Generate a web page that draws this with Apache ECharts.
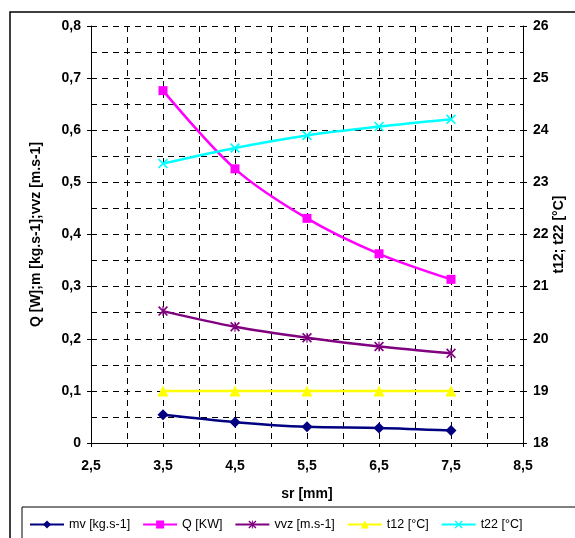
<!DOCTYPE html>
<html>
<head>
<meta charset="utf-8">
<script src="https://cdn.jsdelivr.net/npm/echarts@6/dist/echarts.min.js"></script>
<style>
  html, body { margin: 0; padding: 0; background: #fff; }
  #chart { width: 575px; height: 538px; }
</style>
</head>
<body>
<div id="chart"></div>
<script>
// Gap width sr [mm]
const sr = [3.5, 4.5, 5.5, 6.5, 7.5];

// Left axis series
const mv = [0.054, 0.040, 0.031, 0.029, 0.024];
const Q = [0.676, 0.526, 0.431, 0.363, 0.314];
const vvz = [0.253, 0.223, 0.202, 0.185, 0.172];

// Right axis series (°C)
const t12 = [19, 19, 19, 19, 19];
const t22 = [23.36, 23.66, 23.90, 24.07, 24.21];

const seriesNames = ['mv [kg.s-1]', 'Q [KW]', 'vvz [m.s-1]', 't12 [°C]', 't22 [°C]'];

const FONT = 'Liberation Sans, Arial, sans-serif';
const comma = v => String(+v.toFixed(1)).replace('.', ',');

const crossPath = 'path://M0,1.2 L1.2,0 L5,3.8 L8.8,0 L10,1.2 L6.2,5 L10,8.8 L8.8,10 L5,6.2 L1.2,10 L0,8.8 L3.8,5 Z';
const starPath = 'path://M0,1.2 L1.2,0 L5,3.8 L8.8,0 L10,1.2 L6.2,5 L10,8.8 L8.8,10 L5,6.2 L1.2,10 L0,8.8 L3.8,5 Z M4.4,0 L5.6,0 L5.6,10 L4.4,10 Z';

const pairs = arr => sr.map((x, i) => [x, arr[i]]);

const dash = { color: '#000', type: [6, 5], width: 1 };
const labelFont = { fontFamily: FONT, fontSize: 14, fontWeight: 'bold', color: '#000' };

function line(name, data, color, symbol, size, yIndex) {
  return {
    name, type: 'line', yAxisIndex: yIndex,
    data: pairs(data), smooth: 0.3,
    symbol, symbolSize: size, showSymbol: true,
    lineStyle: { color, width: 2.5 },
    itemStyle: { color, borderWidth: 0 },
    emphasis: { disabled: true },
    z: 3
  };
}

const chart = echarts.init(document.getElementById('chart'));
chart.setOption({
  animation: false,
  backgroundColor: '#fff',
  graphic: [
    { type: 'rect', shape: { x: 10, y: 12, width: 700, height: 700 },
      style: { fill: 'none', stroke: '#000', lineWidth: 1.5 }, z: -1 },
    { type: 'rect', shape: { x: 22, y: 507, width: 700, height: 100 },
      style: { fill: 'none', stroke: '#000', lineWidth: 1 }, z: -1 }
  ],
  grid: { left: 91, right: 52, top: 26, bottom: 95, containLabel: false, outerBoundsMode: 'none' },
  legend: {
    left: 24, top: 513,
    itemWidth: 34, itemHeight: 10, itemGap: 12,
    textStyle: { fontFamily: FONT, fontSize: 12.5, color: '#000' },
    data: seriesNames
  },
  xAxis: {
    type: 'value', min: 2.5, max: 8.5, interval: 0.5,
    name: 'sr [mm]', nameLocation: 'middle', nameGap: 44,
    nameTextStyle: labelFont,
    axisLine: { show: true, lineStyle: { color: '#000', width: 1 } },
    axisTick: { show: true, length: 4, lineStyle: { color: '#000' } },
    axisLabel: Object.assign({}, labelFont, {
      margin: 16,
      formatter: v => (Math.round(v * 2) % 2 === 1 ? comma(v) : '')
    }),
    splitLine: { show: true, lineStyle: dash }
  },
  yAxis: [
    {
      type: 'value', min: 0, max: 0.8, interval: 0.1, position: 'left',
      name: 'Q [W];m [kg.s-1];vvz [m.s-1]', nameLocation: 'middle', nameGap: 48, nameRotate: 90,
      nameTextStyle: labelFont,
      axisLine: { show: true, lineStyle: { color: '#000', width: 1 } },
      axisTick: { show: true, length: 4, lineStyle: { color: '#000' } },
      axisLabel: Object.assign({}, labelFont, {
        margin: 10,
        formatter: v => (v === 0 ? '0' : comma(v))
      }),
      splitLine: { show: true, lineStyle: dash },
      minorTick: { show: false, splitNumber: 2 },
      minorSplitLine: { show: true, lineStyle: dash }
    },
    {
      type: 'value', min: 18, max: 26, interval: 1, position: 'right',
      name: 't12; t22 [°C]', nameLocation: 'middle', nameGap: 29, nameRotate: 90,
      nameMoveOverlap: false,
      nameTextStyle: labelFont,
      axisLine: { show: true, lineStyle: { color: '#000', width: 1 } },
      axisTick: { show: true, length: 4, lineStyle: { color: '#000' } },
      axisLabel: Object.assign({}, labelFont, { margin: 10 }),
      splitLine: { show: false }
    }
  ],
  series: [
    line(seriesNames[0], mv, '#000080', 'diamond', 11, 0),
    line(seriesNames[1], Q, '#FF00FF', 'rect', 9, 0),
    line(seriesNames[2], vvz, '#800080', starPath, 10, 0),
    line(seriesNames[3], t12, '#FFFF00', 'triangle', 11, 1),
    line(seriesNames[4], t22, '#00FFFF', crossPath, 10, 1)
  ]
});
</script>
</body>
</html>
